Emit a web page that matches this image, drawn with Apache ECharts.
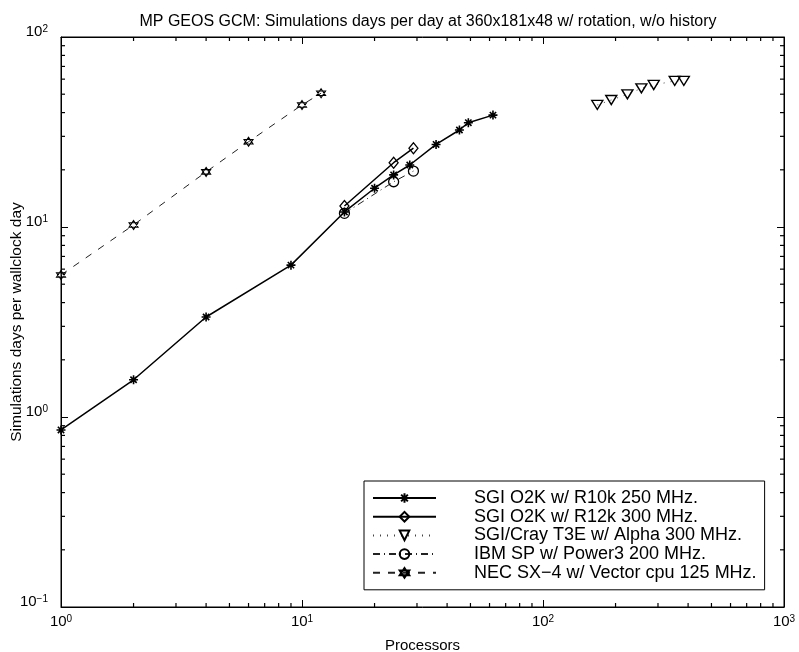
<!DOCTYPE html>
<html><head><meta charset="utf-8">
<script src="https://cdn.jsdelivr.net/npm/echarts@6/dist/echarts.min.js"></script>
<style>html,body{margin:0;padding:0;background:#fff}#c{width:799px;height:652px}</style>
</head><body><div id="c"></div>
<script>
const titleText = 'MP GEOS GCM: Simulations days per day at 360x181x48 w/ rotation, w/o history';
const xName = 'Processors';
const yName = 'Simulations days per wallclock day';
const seriesNames = [
  'SGI O2K w/ R10k 250 MHz.',
  'SGI O2K w/ R12k 300 MHz.',
  'SGI/Cray T3E w/ Alpha 300 MHz.',
  'IBM SP w/ Power3 200 MHz.',
  'NEC SX\u22124 w/ Vector cpu 125 MHz.'
];
const r10kX = [1, 2, 4, 9, 15, 20, 24, 28, 36, 45, 49, 62];
const r10kY = [0.855, 1.57, 3.36, 6.3, 12.0, 16.0, 18.8, 21.2, 27.2, 32.4, 35.4, 38.8];
const r12kX = [15, 24, 29];
const r12kY = [12.9, 21.8, 26.0];
const t3eX = [168, 192, 224, 256, 288, 352, 384];
const t3eY = [43.9, 46.6, 49.9, 53.7, 55.9, 58.7, 58.7];
const ibmX = [15, 24, 29];
const ibmY = [11.8, 17.3, 19.7];
const necX = [1, 2, 4, 6, 10, 12];
const necY = [5.59, 10.25, 19.5, 28.1, 43.9, 50.6];
const xMinorTicks = [2,3,4,5,6,7,8,9,20,30,40,50,60,70,80,90,200,300,400,500,600,700,800,900];
const yMinorTicks = [0.2,0.3,0.4,0.5,0.6,0.7,0.8,0.9,2,3,4,5,6,7,8,9,20,30,40,50,60,70,80,90];
const X_MIN = 1, X_MAX = 1000, Y_MIN = 0.1, Y_MAX = 100;

const FONT = "'Liberation Sans', Arial, Helvetica, sans-serif";
const pair = (xs, ys) => xs.map((x, i) => [x, ys[i]]);

function expLabel(v) {
  const e = Math.round(Math.log10(v));
  return '{b|10}{s|' + (e < 0 ? '\u2212' + (-e) : e) + '}';
}
const rich = {
  b: {fontSize: 15, fontFamily: FONT, color: '#000', lineHeight: 15, verticalAlign: 'bottom'},
  s: {fontSize: 10, fontFamily: FONT, color: '#000', lineHeight: 10, verticalAlign: 'top', padding: [0, 0, 9, 0]}
};

const ASTERISK = 'path://M0,5L10,5M5,0L5,10M1.5,1.5L8.5,8.5M8.5,1.5L1.5,8.5';
const TRIDOWN = 'path://M0,0L10,0L5,8.66Z';
const HEXAGRAM = 'path://M5,0L9.33,7.5L0.67,7.5ZM5,10L0.67,2.5L9.33,2.5Z';

const hollow = (w) => ({color: 'rgba(255,255,255,0)', borderColor: '#000', borderWidth: w});

const chart = echarts.init(document.getElementById('c'), null, {renderer: 'canvas'});
const logX = {type: 'log', logBase: 10, min: X_MIN, max: X_MAX};
const logY = {type: 'log', logBase: 10, min: Y_MIN, max: Y_MAX};

// minor tick marks: tiny rect symbols placed through the axes' own log scales
function tickSeries(data, size, offset) {
  return {
    type: 'scatter', silent: true, z: 10, clip: false, legendHoverLink: false,
    data: data, symbol: 'rect', symbolSize: size, symbolOffset: offset,
    itemStyle: {color: '#000', opacity: 1}, emphasis: {disabled: true},
    tooltip: {show: false}
  };
}
const TL = 4;

chart.setOption({
  animation: false,
  backgroundColor: '#fff',
  title: {
    text: titleText, left: 423, top: 9, textAlign: 'center',
    textStyle: {fontSize: 16, fontWeight: 'normal', fontFamily: FONT, color: '#000'}
  },
  grid: {left: 61, right: 15, top: 37, bottom: 45, containLabel: false, outerBoundsMode: 'none',
         show: true, borderColor: '#000', borderWidth: 1, backgroundColor: '#fff'},
  legend: {
    orient: 'vertical', left: 364, top: 481,
    itemWidth: 63, itemHeight: 12, itemGap: 0.7,
    padding: [8, 8, 8, 8],
    borderColor: '#000', borderWidth: 1, backgroundColor: '#fff',
    textStyle: {fontSize: 18, fontFamily: FONT, color: '#000', padding: [0, 0, 0, 33], lineHeight: 18},
    data: seriesNames
  },
  xAxis: [
    Object.assign({}, logX, {
      position: 'bottom',
      name: xName, nameLocation: 'middle', nameGap: 28,
      nameTextStyle: {fontSize: 15, fontFamily: FONT, color: '#000'},
      axisLine: {show: true, lineStyle: {color: '#000', width: 1}},
      axisTick: {show: true, inside: true, length: 7, lineStyle: {color: '#000'}},
      axisLabel: {show: true, margin: 7.5, formatter: expLabel, rich: rich},
      splitLine: {show: false}
    }),
    Object.assign({}, logX, {
      position: 'top',
      axisLine: {show: true, lineStyle: {color: '#000', width: 1}},
      axisTick: {show: true, inside: true, length: 7, lineStyle: {color: '#000'}},
      axisLabel: {show: false},
      splitLine: {show: false}
    })
  ],
  yAxis: [
    Object.assign({}, logY, {
      position: 'left',
      name: yName, nameLocation: 'middle', nameGap: 36, nameMoveOverlap: false,
      nameTextStyle: {fontSize: 15.5, fontFamily: FONT, color: '#000'},
      axisLine: {show: true, lineStyle: {color: '#000', width: 1}},
      axisTick: {show: true, inside: true, length: 7, lineStyle: {color: '#000'}},
      axisLabel: {show: true, margin: 13, formatter: expLabel, rich: rich, padding: [0, 0, 10, 0]},
      splitLine: {show: false}
    }),
    Object.assign({}, logY, {
      position: 'right',
      axisLine: {show: true, lineStyle: {color: '#000', width: 1}},
      axisTick: {show: true, inside: true, length: 7, lineStyle: {color: '#000'}},
      axisLabel: {show: false},
      splitLine: {show: false}
    })
  ],
  series: [
    tickSeries(xMinorTicks.map(v => [v, Y_MIN]), [1.2, TL], [0, -TL / 2]),
    tickSeries(xMinorTicks.map(v => [v, Y_MAX]), [1.2, TL], [0, TL / 2]),
    tickSeries(yMinorTicks.map(v => [X_MIN, v]), [TL, 1.2], [TL / 2, 0]),
    tickSeries(yMinorTicks.map(v => [X_MAX, v]), [TL, 1.2], [-TL / 2, 0]),
    {
      name: seriesNames[0], type: 'line', data: pair(r10kX, r10kY),
      symbol: ASTERISK, symbolSize: 9, itemStyle: hollow(1.6),
      lineStyle: {color: '#000', width: 1.5, type: 'solid'}, z: 5
    },
    {
      name: seriesNames[1], type: 'line', data: pair(r12kX, r12kY),
      symbol: 'diamond', symbolSize: [9, 11], itemStyle: hollow(1.3),
      lineStyle: {color: '#000', width: 1.5, type: 'solid'}, z: 4
    },
    {
      name: seriesNames[2], type: 'line', data: pair(t3eX, t3eY),
      symbol: TRIDOWN, symbolSize: [11, 9], itemStyle: hollow(1.4),
      lineStyle: {color: '#444', width: 1, type: [1, 6]}, z: 4
    },
    {
      name: seriesNames[3], type: 'line', data: pair(ibmX, ibmY),
      symbol: 'circle', symbolSize: 10, itemStyle: hollow(1.3),
      lineStyle: {color: '#222', width: 1, type: [7, 4, 1, 4]}, z: 4
    },
    {
      name: seriesNames[4], type: 'line', data: pair(necX, necY),
      symbol: HEXAGRAM, symbolSize: 9, itemStyle: hollow(1.1),
      lineStyle: {color: '#222', width: 1, type: [7, 8]}, z: 4
    }
  ]
});
</script>
</body></html>
